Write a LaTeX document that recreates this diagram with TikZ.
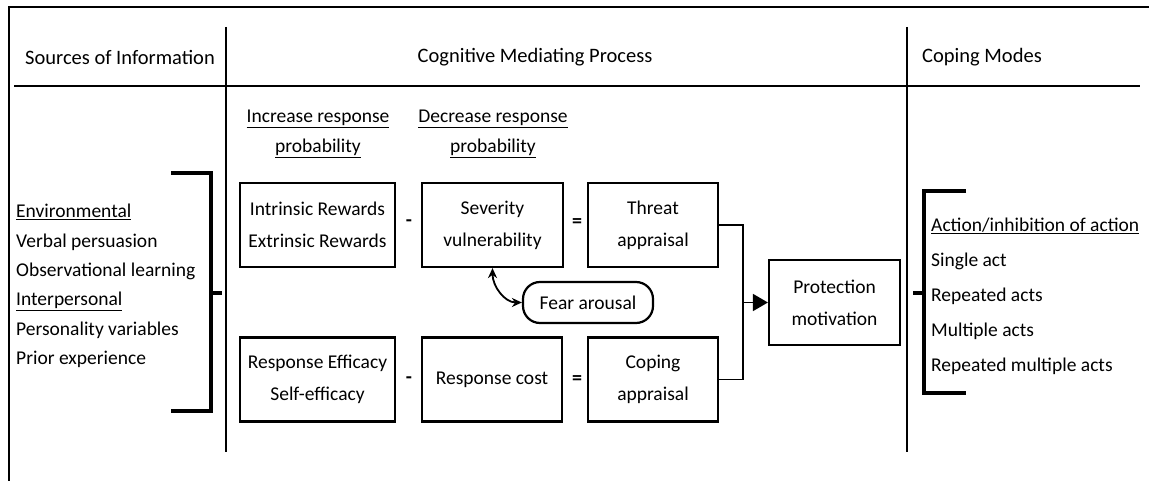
\documentclass[tikz,border=0pt]{standalone}
\usepackage{fontspec}
\setmainfont{Carlito}
\usetikzlibrary{arrows.meta,calc}
\begin{document}
\begin{tikzpicture}[x=1pt,y=-1pt,
  frame/.style={line width=2.2pt},
  bracket/.style={line width=3.2pt},
  box/.style={draw, line width=2.2pt, minimum height=84pt, align=center, inner sep=2pt,
     font=\fontsize{19.5}{32}\selectfont},
  conn/.style={line width=1.8pt},
  txt/.style={inner sep=0pt, font=\fontsize{19.5}{30}\selectfont},
  head/.style={inner sep=0pt, font=\fontsize{20.5}{24}\selectfont},
  op/.style={inner sep=0pt, font=\fontsize{20}{24}\selectfont\bfseries}]
\useasboundingbox (0,0) rectangle (1149,481);
% frame and dividers
\draw[frame] (9,481) -- (9,7) -- (1149,7);
\draw[line width=2.6pt] (14,86) -- (1140,86);
\draw[frame] (226,27) -- (226,452);
\draw[frame] (907,27) -- (907,452);
% headers
\node[head] (h1) at (120,57) {Sources of Information};
\node[head] (h2) at (535,57) {Cognitive Mediating Process};
\node[head] (h3) at (982,57) {Coping Modes};
% left column
\node[txt, anchor=west, align=left, font=\fontsize{19.5}{29.3}\selectfont] (src) at (16,286)
 {\underline{Environmental}\\Verbal persuasion\\Observational learning\\\underline{Interpersonal}\\Personality variables\\Prior experience};
\draw[bracket] (171,173) -- (211,173) -- (211,411) -- (171,411);
\draw[bracket] (211,293) -- (222,293);
% sub-headers
\node[txt, align=center] (inc) at (318,134) {\underline{Increase response}\\\underline{probability}};
\node[txt, align=center] (dec) at (493,134) {\underline{Decrease response}\\\underline{probability}};
% boxes
\node[box, minimum width=155pt] (ir) at (317.5,225) {Intrinsic Rewards\\Extrinsic Rewards};
\node[box, minimum width=141pt] (sev) at (492.5,225) {Severity\\vulnerability};
\node[box, minimum width=130pt] (thr) at (653,225) {Threat\\appraisal};
\node[box, minimum width=155pt] (re) at (317.5,379.5) {Response Efficacy\\Self-efficacy};
\node[box, minimum width=140pt] (rc) at (492,379.5) {Response cost};
\node[box, minimum width=130pt] (cop) at (653,379.5) {Coping\\appraisal};
\node[box, minimum width=131pt, minimum height=85pt] (prot) at (834.5,302.5) {Protection\\motivation};
\node[draw, line width=2.2pt, rounded corners=17pt, minimum width=130pt, minimum height=41pt,
      inner sep=2pt, font=\fontsize{19.5}{24}\selectfont] (fear) at (588,302.5) {Fear arousal};
% operators
\node[op] (m1) at (409,223) {-};
\node[op] (e1) at (577,223) {=};
\node[op] (m2) at (409,380) {-};
\node[op] (e2) at (577,380) {=};
% connectors
\coordinate (j) at (743,302.5);
\draw[conn] (thr.east) -| (j);
\draw[conn] (cop.east) -| (j);
\draw[conn, -{Triangle[length=15pt,width=17pt]}] (j) -- (prot.west);
\draw[conn, {Stealth[length=10pt,width=9pt]}-{Stealth[length=10pt,width=9pt]}]
  (sev.south) to[out=-90,in=180] (fear.west);
% right column
\draw[bracket] (966,191) -- (924,191) -- (924,393) -- (966,393);
\draw[bracket] (913,293) -- (924,293);
\node[txt, anchor=west, align=left, font=\fontsize{19.5}{35}\selectfont] (modes) at (931,296)
 {\underline{Action/inhibition of action}\\Single act\\Repeated acts\\Multiple acts\\Repeated multiple acts};
\end{tikzpicture}
\end{document}
